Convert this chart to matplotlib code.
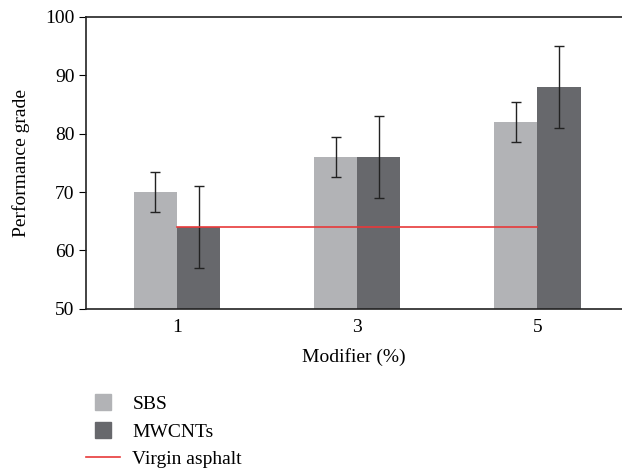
import numpy as np
import matplotlib.pyplot as plt
from matplotlib.lines import Line2D

plt.rcParams['font.family'] = ['Liberation Serif', 'DejaVu Serif']
plt.rcParams['font.size'] = 14

modifier = ['1', '3', '5']
sbs = [70, 76, 82]
sbs_err = [3.5, 3.5, 3.5]
mwcnt = [64, 76, 88]
mwcnt_err = [7, 7, 7]
virgin = 64

fig = plt.figure(figsize=(6.22, 4.70), dpi=100)
ax = fig.add_axes([0.138, 0.343, 0.862, 0.621])

x = np.arange(len(modifier))
w = 0.24
ax.bar(x - w/2, sbs, w, color='#b2b3b6', yerr=sbs_err, capsize=3.5,
       error_kw=dict(elinewidth=1, capthick=1, ecolor='#222222'), zorder=2)
ax.bar(x + w/2, mwcnt, w, color='#67686c', yerr=mwcnt_err, capsize=3.5,
       error_kw=dict(elinewidth=1, capthick=1, ecolor='#222222'), zorder=2)
ax.plot([x[0], x[-1]], [virgin, virgin], color='#e8393a', lw=1.2, zorder=3)

ax.set_xlim(-0.506, 2.47)
ax.set_ylim(50, 100)
ax.set_yticks([50, 60, 70, 80, 90, 100])
ax.set_xticks(x)
ax.set_xticklabels(modifier)
ax.tick_params(axis='x', length=0, pad=7)
ax.tick_params(axis='y', length=5, direction='out', pad=3)
ax.spines['right'].set_visible(False)
for s in ['left', 'top', 'bottom']:
    ax.spines[s].set_linewidth(1.2)
    ax.spines[s].set_color('#222222')

ax.set_xlabel('Modifier (%)', labelpad=9)
ax.set_ylabel('Performance grade', labelpad=11)

handles = [Line2D([], [], marker='s', markersize=11, linestyle='none',
                  color='#b2b3b6', label='SBS'),
           Line2D([], [], marker='s', markersize=11, linestyle='none',
                  color='#67686c', label='MWCNTs'),
           Line2D([], [], color='#e8393a', lw=1.2, label='Virgin asphalt')]
fig.legend(handles=handles, loc='upper left', bbox_to_anchor=(0.122, 0.179),
           frameon=False, borderpad=0, handlelength=1.75, labelspacing=0.5,
           handletextpad=0.65)

fig.savefig('out.png', dpi=100)
